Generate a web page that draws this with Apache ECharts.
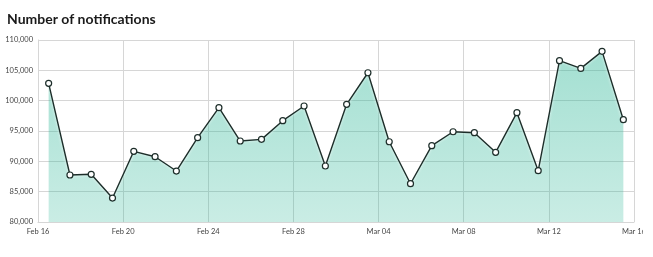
<!DOCTYPE html>
<html>
<head>
<meta charset="utf-8">
<script src="https://cdn.jsdelivr.net/npm/echarts@6/dist/echarts.min.js"></script>
<style>
html,body{margin:0;padding:0;background:#fff;}
#clip{width:643px;height:257px;overflow:hidden;position:relative;}
#chart{width:653px;height:257px;}
</style>
</head>
<body>
<div id="clip"><div id="chart"></div></div>
<script>
const titleText = "Number of notifications";
const startDate = "2015-02-16";
const dayCount = 28;
const tickStepDays = 4;
const yTicks = [80000, 85000, 90000, 95000, 100000, 105000, 110000];
const notifications = [
  102860, 87750, 87860, 83950, 91650, 90760, 88400, 93900, 98840, 93350,
  93620, 96700, 99120, 89230, 99400, 104600, 93230, 86310, 92580, 94880,
  94720, 91480, 98020, 88460, 106590, 105320, 108130, 96860
];
const months = ["Jan","Feb","Mar","Apr","May","Jun","Jul","Aug","Sep","Oct","Nov","Dec"];

const base = new Date(startDate + "T00:00:00Z");
function dayLabel(d) {
  const dt = new Date(base.getTime() + d * 86400000);
  const day = dt.getUTCDate();
  return months[dt.getUTCMonth()] + " " + (day < 10 ? "0" + day : day);
}
const seriesData = notifications.map((v, i) => [i + 0.5, v]);

const chart = echarts.init(document.getElementById('chart'), null, {renderer: 'canvas'});
chart.setOption({
  animation: false,
  backgroundColor: '#fff',
  title: {
    text: titleText,
    left: 2, top: 7,
    textStyle: {fontFamily: 'Lato', fontWeight: 'bold', fontSize: 14, color: '#1a1a1a'}
  },
  grid: {left: 38, right: 19, top: 40, bottom: 35, containLabel: false},
  xAxis: {
    type: 'value',
    min: 0, max: dayCount, interval: tickStepDays,
    axisLine: {show: true, lineStyle: {color: '#d6d6d6'}},
    axisTick: {show: false},
    splitLine: {show: true, lineStyle: {color: '#d6d6d6', width: 1}},
    axisLabel: {
      formatter: v => dayLabel(v),
      fontFamily: 'Lato', fontSize: 7.5, color: '#444', margin: 6,
      showMinLabel: true, showMaxLabel: true
    }
  },
  yAxis: {
    type: 'value',
    min: yTicks[0], max: yTicks[yTicks.length - 1], interval: yTicks[1] - yTicks[0],
    axisLine: {show: true, lineStyle: {color: '#d6d6d6'}},
    axisTick: {show: false},
    splitLine: {show: true, lineStyle: {color: '#d6d6d6', width: 1}},
    axisLabel: {
      formatter: v => v.toLocaleString('en-US'),
      fontFamily: 'Lato', fontSize: 7.5, color: '#444', margin: 5
    }
  },
  series: [{
    type: 'line',
    data: seriesData,
    symbol: 'circle',
    symbolSize: 6,
    itemStyle: {color: '#fff', borderColor: '#1d2e2a', borderWidth: 1.2},
    lineStyle: {color: '#1d2e2a', width: 1.4, shadowColor: 'rgba(255,255,255,0.9)', shadowBlur: 3},
    areaStyle: {
      color: new echarts.graphic.LinearGradient(0, 0, 0, 1, [
        {offset: 0, color: 'rgba(43,182,150,0.62)'},
        {offset: 1, color: 'rgba(43,182,150,0.36)'}
      ])
    },
    z: 3
  }]
});
</script>
</body>
</html>
